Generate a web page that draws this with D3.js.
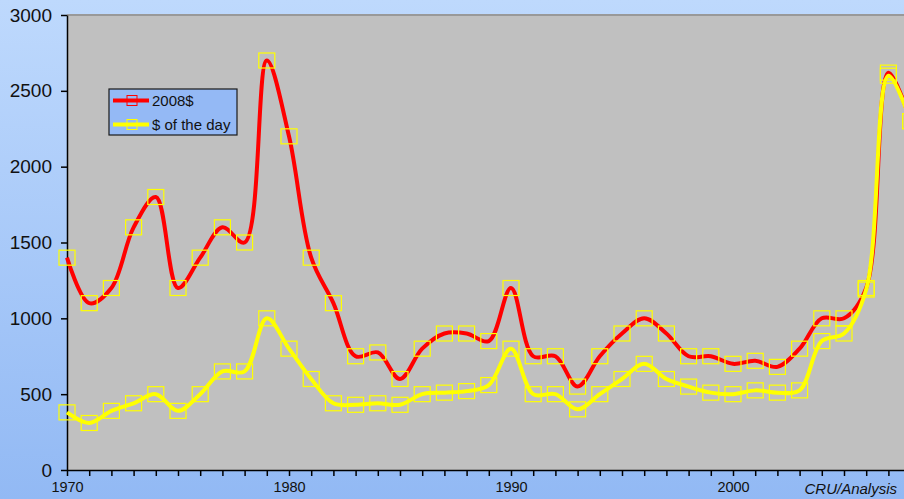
<!DOCTYPE html>
<html>
<head>
<meta charset="utf-8">
<script src="https://cdn.jsdelivr.net/npm/d3@7"></script>
<style>
  body { margin: 0; overflow: hidden; }
  svg { display: block; font-family: "Liberation Sans", Arial, sans-serif; }
</style>
</head>
<body>
<script>
const years = [1970, 1971, 1972, 1973, 1974, 1975, 1976, 1977, 1978, 1979,
  1980, 1981, 1982, 1983, 1984, 1985, 1986, 1987, 1988, 1989,
  1990, 1991, 1992, 1993, 1994, 1995, 1996, 1997, 1998, 1999,
  2000, 2001, 2002, 2003, 2004, 2005, 2006, 2007, 2008];

const real2008 = [1400, 1100, 1200, 1600, 1800, 1200, 1400, 1600, 1500, 2700,
  2200, 1400, 1100, 750, 775, 600, 800, 900, 900, 850,
  1200, 750, 750, 550, 750, 900, 1000, 900, 750, 750,
  700, 720, 680, 800, 1000, 1000, 1200, 2620, 2300];

const ofTheDay = [380, 310, 390, 440, 500, 390, 500, 650, 650, 1000,
  800, 600, 440, 430, 440, 430, 500, 510, 520, 560,
  800, 500, 500, 400, 500, 600, 700, 600, 550, 510,
  500, 525, 510, 525, 850, 900, 1190, 2600, 2300];

const yTicks = [0, 500, 1000, 1500, 2000, 2500, 3000];
const xLabels = [1970, 1980, 1990, 2000];

const series = [
  { name: "2008$", values: real2008, color: "#ff0000", legendMarker: "#ff0000" },
  { name: "$ of the day", values: ofTheDay, color: "#ffff00", legendMarker: "#ffff00" }
];

const w = 904;
const h = 499;

const x = d3.scaleLinear().domain([1970, 2008]).range([67, 910.6]);
const y = d3.scaleLinear().domain([0, 3000]).range([470, 15]);

const svg = d3.select("body")
  .append("svg")
  .attr("width", w)
  .attr("height", h);

const grad = svg.append("defs")
  .append("linearGradient")
  .attr("id", "bg")
  .attr("x1", 0).attr("y1", 0)
  .attr("x2", 0).attr("y2", 1);
grad.append("stop").attr("offset", "0%").attr("stop-color", "#bed9fd");
grad.append("stop").attr("offset", "100%").attr("stop-color", "#92b9f4");

svg.append("rect")
  .attr("width", w)
  .attr("height", h)
  .attr("fill", "url(#bg)");

// plot area
svg.append("rect")
  .attr("x", x(1970))
  .attr("y", y(3000))
  .attr("width", 910.6 - 67 + 20)
  .attr("height", y(0) - y(3000))
  .attr("fill", "#c0c0c0");

svg.append("line")
  .attr("x1", x(1970)).attr("x2", w)
  .attr("y1", y(3000)).attr("y2", y(3000))
  .attr("stroke", "#999999")
  .attr("stroke-width", 2);

// axes
const yAxis = svg.append("g")
  .attr("transform", `translate(${x(1970)},0)`)
  .call(d3.axisLeft(y)
    .tickValues(yTicks)
    .tickSize(6)
    .tickSizeOuter(0)
    .tickPadding(9)
    .tickFormat(d3.format("d")));

yAxis.selectAll("text")
  .style("font-size", "19px")
  .style("font-family", "Liberation Sans, Arial, sans-serif")
  .attr("fill", "#111");

const xAxis = svg.append("g")
  .attr("transform", `translate(0,${y(0)})`)
  .call(d3.axisBottom(x)
    .tickValues(years)
    .tickSize(6)
    .tickSizeOuter(0)
    .tickPadding(6)
    .tickFormat((d) => (xLabels.includes(d) ? String(d) : "")));

xAxis.selectAll("text")
  .style("font-size", "14.5px")
  .style("font-family", "Liberation Sans, Arial, sans-serif")
  .attr("fill", "#111");

svg.selectAll(".domain, .tick line")
  .attr("stroke", "#000")
  .attr("stroke-width", 1.5);

// lines and markers
const line = d3.line()
  .x((d, i) => x(years[i]))
  .y((d) => y(d))
  .curve(d3.curveCatmullRom.alpha(0.5));

series.forEach((s) => {
  svg.append("path")
    .attr("d", line(s.values))
    .attr("fill", "none")
    .attr("stroke", s.color)
    .attr("stroke-width", 4)
    .attr("stroke-linejoin", "round");

  svg.append("g")
    .selectAll("rect")
    .data(s.values)
    .enter()
    .append("rect")
    .attr("x", (d, i) => x(years[i]) - 8)
    .attr("y", (d) => y(d) - 7.5)
    .attr("width", 16)
    .attr("height", 15)
    .attr("fill", "none")
    .attr("stroke", "#ffff00")
    .attr("stroke-width", 1.2);
});

// legend
const legend = svg.append("g")
  .attr("transform", "translate(109,89)");

legend.append("rect")
  .attr("width", 128)
  .attr("height", 46)
  .attr("fill", "#94b9f5")
  .attr("stroke", "#1a1a1a")
  .attr("stroke-width", 1.2);

series.forEach((s, i) => {
  const ly = 11.5 + i * 24;
  legend.append("line")
    .attr("x1", 4).attr("x2", 40)
    .attr("y1", ly).attr("y2", ly)
    .attr("stroke", s.color)
    .attr("stroke-width", 4);
  legend.append("rect")
    .attr("x", 18).attr("y", ly - 5)
    .attr("width", 10).attr("height", 10)
    .attr("fill", "none")
    .attr("stroke", s.legendMarker)
    .attr("stroke-width", 1);
  legend.append("text")
    .attr("x", 43)
    .attr("y", ly + 5.5)
    .attr("font-size", 15)
    .attr("fill", "#111")
    .text(s.name);
});

svg.append("text")
  .attr("x", 897)
  .attr("y", 494)
  .attr("text-anchor", "end")
  .attr("font-size", 15)
  .attr("font-style", "italic")
  .attr("fill", "#111")
  .text("CRU/Analysis");
</script>
</body>
</html>
